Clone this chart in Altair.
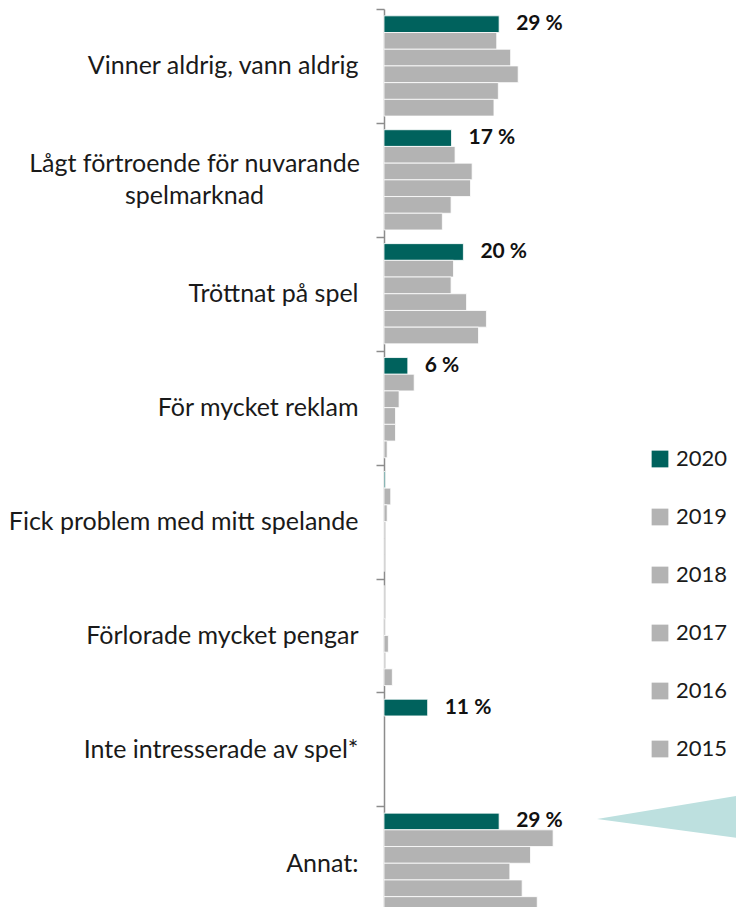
import altair as alt
import pandas as pd

categories = [
    "Vinner aldrig, vann aldrig",
    "Lågt förtroende för nuvarande|spelmarknad",
    "Tröttnat på spel",
    "För mycket reklam",
    "Fick problem med mitt spelande",
    "Förlorade mycket pengar",
    "Inte intresserade av spel*",
    "Annat:",
]
years = ["2020", "2019", "2018", "2017", "2016", "2015"]

v2020 = [29, 17, 20, 6, 0.3, 0, 11, 29]
v2019 = [28.4, 17.9, 17.5, 7.6, 1.7, 0, None, 42.6]
v2018 = [31.9, 22.2, 16.9, 3.8, 0.8, 0.4, None, 36.9]
v2017 = [33.8, 21.8, 20.8, 2.9, 0, 1.1, None, 31.7]
v2016 = [28.8, 16.9, 25.8, 2.9, 0, 0, None, 34.8]
v2015 = [27.7, 14.7, 23.8, 0.8, 0, 2.1, None, 38.6]
labels2020 = ["29 %", "17 %", "20 %", "6 %", "", "", "11 %", "29 %"]

series = [v2020, v2019, v2018, v2017, v2016, v2015]

rows = []
for yr, vals in zip(years, series):
    for c, v in zip(categories, vals):
        if v is not None:
            rows.append({"category": c, "year": yr, "value": v})
df = pd.DataFrame(rows)

lab = pd.DataFrame({"category": categories, "year": "2020", "value": v2020, "label": labels2020})
lab = lab[lab["label"] != ""]

TEAL = "#00625D"
GRAY = "#B3B3B3"
FONT = "Lato"

step = 113.9
H = 8 * step
W = 352
xmax = W / 3.97
multi = "indexof(datum.value, '|') >= 0"

yenc = alt.Y(
    "category:N",
    sort=categories,
    scale=alt.Scale(domain=categories, range=[0, H], paddingInner=0.12, paddingOuter=0.06),
    axis=alt.Axis(
        title=None,
        domainColor="#8c8c8c",
        domainWidth=1.5,
        tickColor="#8c8c8c",
        tickWidth=1.5,
        tickSize=8,
        tickOffset=-step / 2,
        labelOffset={"condition": {"test": multi, "value": step / 2 - 16}, "value": step / 2},
        labelFont=FONT,
        labelFontSize=25,
        labelColor="#1a1a1a",
        labelAlign={"condition": {"test": multi, "value": "center"}, "value": "right"},
        labelPadding={"condition": {"test": multi, "value": 182}, "value": 18},
        labelLineHeight=32,
        labelLimit=0,
        labelExpr="split(datum.label, '|')",
    ),
)
yoff = alt.YOffset("year:N", sort=years, scale=alt.Scale(domain=years, paddingInner=0, paddingOuter=0))
xenc = alt.X("value:Q", scale=alt.Scale(domain=[0, xmax]), axis=None)

bars = alt.Chart(df).mark_bar(stroke="white", strokeWidth=0.8).encode(
    x=xenc,
    y=yenc,
    yOffset=yoff,
    color=alt.Color(
        "year:N",
        sort=years,
        scale=alt.Scale(domain=years, range=[TEAL] + [GRAY] * 5),
        legend=alt.Legend(
            title=None,
            orient="none",
            legendX=265,
            legendY=439,
            symbolType="square",
            symbolSize=280,
            symbolStrokeWidth=0,
            labelFont=FONT,
            labelFontSize=22,
            labelColor="#1a1a1a",
            rowPadding=36,
            labelOffset=5,
            padding=0,
        ),
    ),
)

texts = alt.Chart(lab).mark_text(
    align="left", baseline="middle", dx=17, fontWeight="bold", fontSize=21, font=FONT, color="#111111"
).encode(x=xenc, y=yenc, yOffset=yoff, text="label:N")

tri = alt.Chart(pd.DataFrame({"a": [0]})).mark_point(
    shape="M-1,0L1,-0.33L1,0.27Z", filled=True, color="#BDE0DF", opacity=1, size=21316, strokeWidth=0
).encode(x=alt.value(286), y=alt.value(810))

chart = alt.layer(bars, texts, tri).properties(
    width=W,
    height=898,
    autosize=alt.AutoSizeParams(type="none"),
    padding={"left": 376, "top": 1, "right": 0, "bottom": 0},
    background="white",
).configure_view(stroke=None)

chart.save("out.html", embed_options={"renderer": "svg", "actions": False})
